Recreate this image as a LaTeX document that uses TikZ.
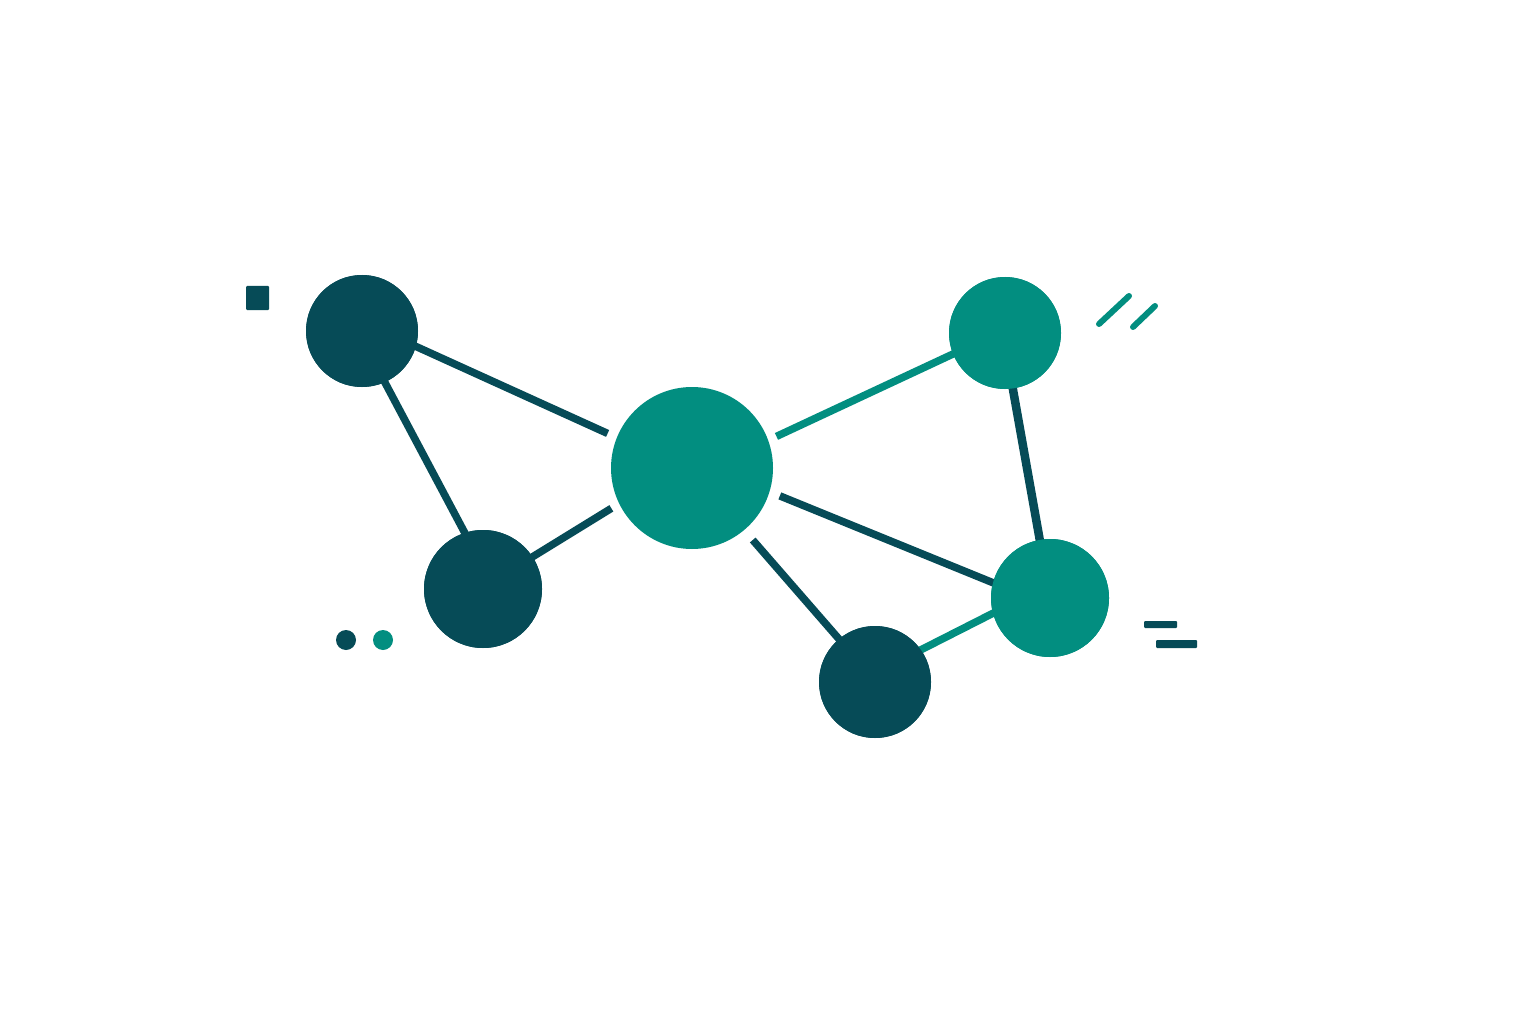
\documentclass[tikz,border=0pt]{standalone}
\begin{document}
\begin{tikzpicture}[x=1pt,y=-1pt,
  dk/.style={fill=darkteal,draw=none},
  lt/.style={fill=teal1,draw=none},
  hub/.style={circle,inner sep=0pt,minimum size=#1},
  edge/.style={line width=7.5pt},
  deco/.style={line width=6pt,line cap=round}]
\definecolor{darkteal}{HTML}{064B57}
\definecolor{teal1}{HTML}{028E80}
\useasboundingbox (0,0) rectangle (1536,1024);
\fill[white] (0,0) rectangle (1536,1024);
\node[hub=112pt,dk] (A) at (362,331) {};
\node[hub=118pt,dk] (B) at (483,589) {};
\node[hub=162pt,lt] (C) at (692,468) {};
\node[hub=112pt,lt] (D) at (1005,333) {};
\node[hub=118pt,lt] (E) at (1050,598) {};
\node[hub=112pt,dk] (F) at (875,682) {};
% connectors
\draw[edge,draw=darkteal,shorten <=-4pt,shorten >=10pt] (A.-16) -- (C.158);
\draw[edge,draw=darkteal,shorten <=-4pt,shorten >=-4pt] (A.-66) -- (B.108);
\draw[edge,draw=darkteal,shorten <=-4pt,shorten >=9pt] (B.33) -- (C.206);
\draw[edge,draw=teal1,shorten <=9pt,shorten >=-4pt] (C.20) -- (D.202);
\draw[edge,draw=darkteal,line width=8.5pt,shorten <=-4pt,shorten >=-4pt] (D.-82) -- (E.100);
\draw[edge,draw=darkteal,shorten <=11pt,shorten >=-4pt] (C.-17) -- (E.165);
\draw[edge,draw=darkteal,shorten <=13pt,shorten >=-4pt] (C.-50) -- (F.130);
\draw[edge,draw=teal1,shorten <=-4pt,shorten >=-4pt] (F.35) -- (E.195);
% redraw nodes on top
\fill[darkteal] (A.center) circle (56);
\fill[darkteal] (B.center) circle (59);
\fill[teal1] (D.center) circle (56);
\fill[teal1] (E.center) circle (59);
\fill[darkteal] (F.center) circle (56);
% decorations
\fill[darkteal,rounded corners=1pt] (246,286) rectangle (269,310);
\draw[deco,teal1] (1099,324) -- (1129,296);
\draw[deco,teal1] (1133,327) -- (1155,306);
\fill[darkteal] (346,640) circle (10);
\fill[teal1] (383,640) circle (10);
\fill[darkteal,rounded corners=1pt] (1144,621) rectangle (1177,628);
\fill[darkteal,rounded corners=1pt] (1156,640) rectangle (1197,648);
\end{tikzpicture}
\end{document}
